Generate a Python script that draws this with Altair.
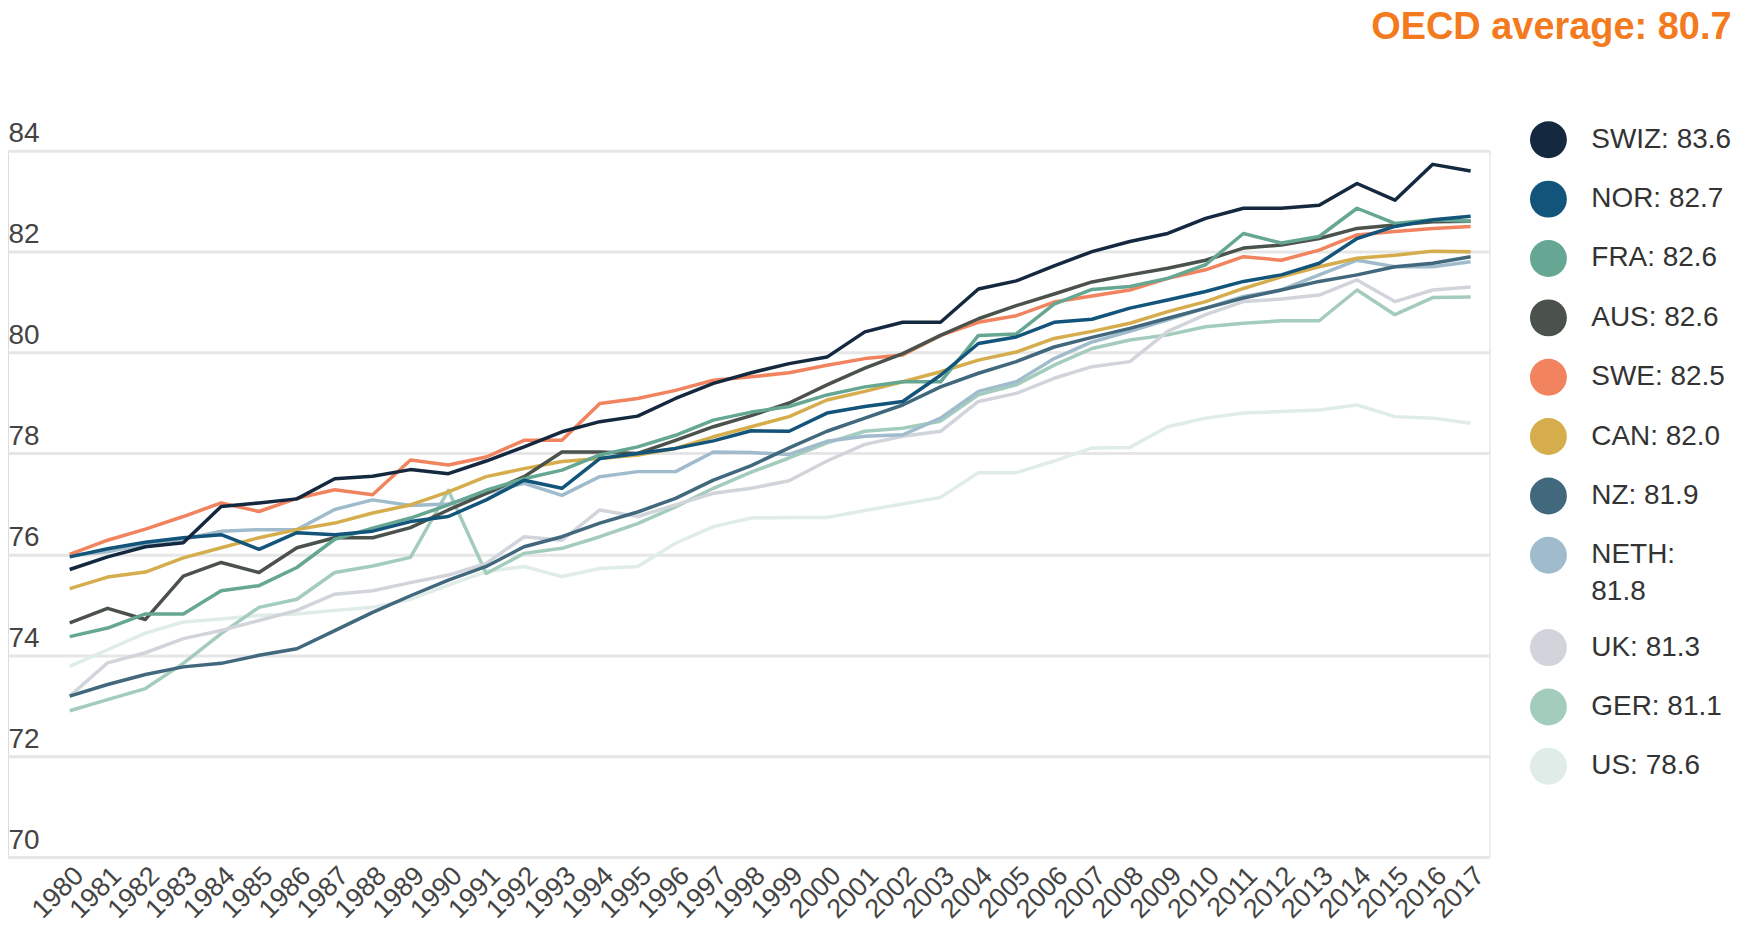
import altair as alt
import pandas as pd

years = list(range(1980, 2018))
countries = ["SWIZ", "NOR", "FRA", "AUS", "SWE", "CAN", "NZ", "NETH", "UK", "GER", "US"]
latest = ["83.6", "82.7", "82.6", "82.6", "82.5", "82.0", "81.9", "81.8", "81.3", "81.1", "78.6"]
colors = ["#14293f", "#12547a", "#65a792", "#4a524b", "#f1845f", "#d5ad4c",
          "#41687c", "#a0bccc", "#d1d5db", "#a4ccbd", "#e0ece8"]

swiz = [75.7, 75.95, 76.15, 76.23, 76.95, 77.02, 77.1, 77.5, 77.55, 77.68,
        77.6, 77.85, 78.13, 78.43, 78.63, 78.74, 79.09, 79.39, 79.6, 79.78,
        79.91, 80.41, 80.6, 80.6, 81.26, 81.42, 81.72, 82.0, 82.2, 82.36,
        82.66, 82.86, 82.86, 82.92, 83.35, 83.02, 83.73, 83.6]
nor = [75.95, 76.11, 76.24, 76.33, 76.39, 76.1, 76.43, 76.39, 76.46, 76.65,
       76.75, 77.08, 77.47, 77.31, 77.9, 78.0, 78.1, 78.25, 78.45, 78.44,
       78.8, 78.93, 79.03, 79.55, 80.18, 80.31, 80.6, 80.66, 80.88, 81.04,
       81.21, 81.41, 81.54, 81.77, 82.26, 82.5, 82.63, 82.7]
fra = [74.37, 74.54, 74.82, 74.82, 75.28, 75.38, 75.74, 76.3, 76.52, 76.72,
       76.98, 77.27, 77.5, 77.67, 77.97, 78.13, 78.36, 78.66, 78.82, 78.93,
       79.16, 79.32, 79.42, 79.42, 80.34, 80.37, 80.96, 81.25, 81.31, 81.47,
       81.74, 82.36, 82.17, 82.3, 82.86, 82.56, 82.63, 82.6]
aus = [74.64, 74.93, 74.71, 75.57, 75.84, 75.64, 76.13, 76.33, 76.33, 76.53,
       76.88, 77.21, 77.54, 78.03, 78.03, 78.0, 78.26, 78.53, 78.75, 79.0,
       79.36, 79.69, 79.98, 80.34, 80.67, 80.93, 81.16, 81.4, 81.54, 81.67,
       81.83, 82.07, 82.13, 82.26, 82.46, 82.53, 82.59, 82.6]
swe = [76.0, 76.28, 76.5, 76.75, 77.02, 76.85, 77.11, 77.28, 77.18, 77.87,
       77.77, 77.93, 78.26, 78.26, 78.99, 79.09, 79.25, 79.45, 79.52, 79.6,
       79.75, 79.88, 79.95, 80.34, 80.6, 80.73, 81.0, 81.12, 81.24, 81.47,
       81.64, 81.9, 81.83, 82.03, 82.33, 82.4, 82.46, 82.5]
can = [75.32, 75.55, 75.65, 75.93, 76.13, 76.33, 76.49, 76.62, 76.82, 76.98,
       77.24, 77.54, 77.7, 77.84, 77.9, 77.97, 78.1, 78.33, 78.53, 78.73,
       79.06, 79.23, 79.42, 79.62, 79.85, 80.01, 80.28, 80.42, 80.58, 80.81,
       81.01, 81.27, 81.5, 81.7, 81.87, 81.93, 82.01, 82.0]
nz = [73.19, 73.42, 73.62, 73.77, 73.84, 74.0, 74.13, 74.49, 74.85, 75.18,
      75.49, 75.76, 76.15, 76.35, 76.62, 76.84, 77.11, 77.47, 77.76, 78.11,
      78.44, 78.7, 78.96, 79.32, 79.59, 79.82, 80.11, 80.3, 80.48, 80.68,
      80.88, 81.08, 81.24, 81.41, 81.54, 81.7, 81.77, 81.9]
neth = [75.98, 76.05, 76.21, 76.3, 76.46, 76.49, 76.49, 76.89, 77.08, 76.97,
        77.0, 77.21, 77.41, 77.17, 77.54, 77.64, 77.64, 78.03, 78.02, 77.98,
        78.24, 78.34, 78.37, 78.7, 79.23, 79.42, 79.88, 80.21, 80.42, 80.65,
        80.88, 81.11, 81.24, 81.54, 81.83, 81.7, 81.7, 81.8]
uk = [73.19, 73.85, 74.05, 74.33, 74.49, 74.69, 74.89, 75.21, 75.28, 75.44,
      75.59, 75.82, 76.35, 76.28, 76.88, 76.75, 76.98, 77.21, 77.31, 77.46,
      77.85, 78.18, 78.34, 78.44, 79.03, 79.19, 79.49, 79.72, 79.82, 80.42,
      80.75, 81.01, 81.06, 81.14, 81.44, 81.01, 81.24, 81.3]
ger = [72.9, 73.12, 73.34, 73.84, 74.43, 74.95, 75.11, 75.64, 75.77, 75.94,
       77.27, 75.62, 76.02, 76.12, 76.35, 76.61, 76.94, 77.31, 77.63, 77.91,
       78.21, 78.44, 78.5, 78.64, 79.16, 79.36, 79.75, 80.08, 80.25, 80.35,
       80.51, 80.58, 80.63, 80.63, 81.24, 80.75, 81.09, 81.1]
us = [73.78, 74.11, 74.44, 74.66, 74.72, 74.79, 74.82, 74.89, 74.95, 75.11,
      75.39, 75.66, 75.76, 75.56, 75.72, 75.76, 76.22, 76.55, 76.72, 76.73,
      76.73, 76.87, 77.0, 77.13, 77.62, 77.62, 77.85, 78.11, 78.12, 78.53,
      78.7, 78.8, 78.83, 78.86, 78.96, 78.73, 78.7, 78.6]

series = {"SWIZ": swiz, "NOR": nor, "FRA": fra, "AUS": aus, "SWE": swe, "CAN": can,
          "NZ": nz, "NETH": neth, "UK": uk, "GER": ger, "US": us}
labels = [f"{c}: {v}" for c, v in zip(countries, latest)]

rows = []
for c, lab in reversed(list(zip(countries, labels))):
    for yr, v in zip(years, series[c]):
        rows.append({"year": yr, "value": v, "country": lab})
df = pd.DataFrame(rows)

FONT = "Liberation Sans"

chart = alt.Chart(df).mark_line(strokeWidth=3.5, strokeJoin="round").encode(
    x=alt.X("year:Q",
            scale=alt.Scale(domain=[1978.37, 2017.5], nice=False, zero=False),
            axis=alt.Axis(values=years, format="d", labelAngle=-45, labelFontSize=27,
                          labelColor="#444444", labelPadding=5, labelOverlap=False,
                          labelFlush=False, labelBound=False, domain=False, ticks=False,
                          grid=False, title=None, labelFont=FONT)),
    y=alt.Y("value:Q",
            scale=alt.Scale(domain=[70, 84], nice=False, zero=False),
            axis=alt.Axis(values=list(range(70, 85, 2)), labelAlign="left",
                          labelBaseline="bottom", labelPadding=0, labelOffset=-3,
                          tickSize=0, ticks=False, domain=False, grid=True,
                          gridColor="#e6e6e6", gridWidth=3, labelFontSize=28,
                          labelColor="#444444", title=None, labelFont=FONT)),
    color=alt.Color("country:N",
                    scale=alt.Scale(domain=labels, range=colors),
                    legend=alt.Legend(title=None, orient="none", legendX=1525.5, legendY=-29.5,
                                      direction="vertical", columns=1, gridAlign="each",
                                      symbolType="circle", symbolSize=1369,
                                      symbolStrokeWidth=0, symbolOpacity=1,
                                      symbolFillColor=alt.ExprRef(expr="scale('color', datum.value)"),
                                      labelFontSize=28, labelFont=FONT, labelColor="#333333",
                                      labelOffset=24.5, rowPadding=22.5, labelLimit=400,
                                      padding=0,
                                      labelExpr="datum.label == 'NETH: 81.8' ? ['NETH:', '81.8'] : datum.label")),
).properties(
    width=1485,
    height=708,
    padding=0,
    title=alt.TitleParams("OECD average: 80.7", anchor="end", fontSize=38, font=FONT,
                          fontWeight="bold", color="#f47a20", offset=73),
).configure_view(stroke=None).configure(
    font=FONT,
    style={"guide-label": {"lineHeight": 37}},
)

chart.save("out.html", embed_options={"renderer": "svg", "actions": False})
